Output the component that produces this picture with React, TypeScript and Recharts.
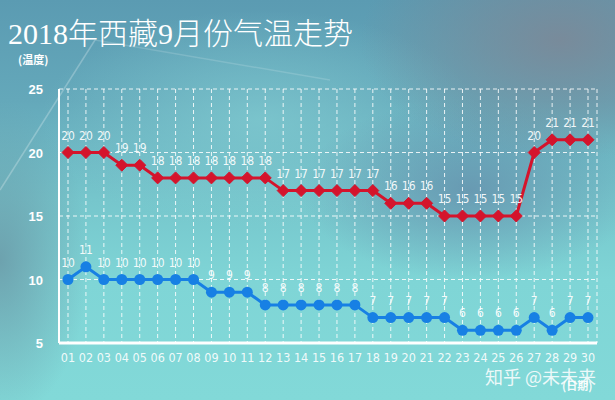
import React from 'react';
import { LineChart, Line, XAxis, YAxis, CartesianGrid, LabelList } from 'recharts';

const days = ['01','02','03','04','05','06','07','08','09','10','11','12','13','14','15','16','17','18','19','20','21','22','23','24','25','26','27','28','29','30'];
const highTemps = [20,20,20,19,19,18,18,18,18,18,18,18,17,17,17,17,17,17,16,16,16,15,15,15,15,15,20,21,21,21];
const lowTemps = [10,11,10,10,10,10,10,10,9,9,9,8,8,8,8,8,8,7,7,7,7,7,6,6,6,6,7,6,7,7];
const yTicks = [5,10,15,20,25];

const data = days.map((d, i) => ({ day: d, high: highTemps[i], low: lowTemps[i] }));

const RED = '#d4142c';
const BLUE = '#1780e4';
const LABEL_FONT = "'Liberation Sans Narrow', 'DejaVu Sans Condensed', 'Liberation Sans', sans-serif";

const Diamond = (props: any) => {
  const { cx, cy } = props;
  if (cx == null || cy == null) return null;
  const r = 6;
  return <polygon points={`${cx},${cy - r} ${cx + r},${cy} ${cx},${cy + r} ${cx - r},${cy}`} fill={RED} stroke={RED} strokeWidth={1} />;
};

const Circle = (props: any) => {
  const { cx, cy } = props;
  if (cx == null || cy == null) return null;
  return <circle cx={cx} cy={cy} r={5.5} fill={BLUE} />;
};

const ValLabel = (props: any) => {
  const { x, y, value } = props;
  return (
    <text x={x} y={y - 13} textAnchor="middle" fill="#ffffff" fillOpacity={0.92} fontSize={12} fontFamily={LABEL_FONT}>
      {value}
    </text>
  );
};

const YTick = (props: any) => {
  const { x, y, payload } = props;
  return (
    <text x={x - 8} y={y + 5} textAnchor="end" fill="#ffffff" fontSize={13} fontWeight="bold" fontFamily="'Liberation Sans', Arial, sans-serif">
      {payload.value}
    </text>
  );
};

const XTick = (props: any) => {
  const { x, y, payload } = props;
  return (
    <text x={x} y={y + 11} textAnchor="middle" fill="#ffffff" fillOpacity={0.9} fontSize={12.5} fontFamily={LABEL_FONT}>
      {payload.value}
    </text>
  );
};

export default function App() {
  const bg = [
    'radial-gradient(ellipse 200px 120px at 560px 40px, rgba(125,135,150,0.85), rgba(125,135,150,0) 100%)',
    'radial-gradient(ellipse 170px 90px at 470px 190px, rgba(100,140,170,0.75), rgba(100,140,170,0) 100%)',
    'radial-gradient(ellipse 90px 160px at 0px 260px, rgba(105,150,165,0.8), rgba(105,150,165,0) 100%)',
    'radial-gradient(ellipse 220px 110px at 260px 120px, rgba(130,205,210,0.7), rgba(130,205,210,0) 100%)',
    'linear-gradient(180deg, #5b9bb2 0%, #64a8ba 25%, #76c6cc 50%, #7fd5d6 70%, #82d9d8 100%)',
  ].join(', ');

  return (
    <div style={{ position: 'fixed', left: 0, top: 0, width: 615, height: 400, background: bg, overflow: 'hidden' }}>
      <svg width={615} height={400} style={{ position: 'absolute', left: 0, top: 0 }}>
        <line x1={0} y1={190} x2={95} y2={40} stroke="#ffffff" strokeOpacity={0.25} strokeWidth={1.5} />
        <line x1={95} y1={40} x2={330} y2={80} stroke="#ffffff" strokeOpacity={0.15} strokeWidth={1.5} />
      </svg>
      <div style={{ position: 'absolute', left: 8, top: 9, color: '#ffffff', fontSize: 30, fontFamily: "'Liberation Serif', 'Noto Sans CJK SC', serif", fontWeight: 300, whiteSpace: 'nowrap', letterSpacing: 0 }}>
        2018年西藏9月份气温走势
      </div>
      <div style={{ position: 'absolute', left: 18, top: 51, color: '#ffffff', fontSize: 11, fontWeight: 'bold', fontFamily: "'Noto Sans CJK SC', sans-serif" }}>
        (温度)
      </div>
      <div style={{ position: 'absolute', left: 0, top: 0 }}>
        <LineChart width={615} height={400} data={data} margin={{ top: 89, right: 18, bottom: 0, left: 0 }}>
          <CartesianGrid stroke="#ffffff" strokeOpacity={0.85} strokeDasharray="4 3" strokeWidth={1} />
          <XAxis dataKey="day" height={57} padding={{ left: 9, right: 9 }} tickLine={false} axisLine={{ stroke: '#ffffff', strokeWidth: 3 }} tick={<XTick />} interval={0} />
          <YAxis width={59} domain={[5, 25]} ticks={yTicks} tickLine={false} axisLine={{ stroke: '#ffffff', strokeWidth: 2 }} tick={<YTick />} interval={0} />
          <Line dataKey="high" stroke={RED} strokeWidth={3} dot={<Diamond />} activeDot={false} isAnimationActive={false}>
            <LabelList dataKey="high" content={<ValLabel />} />
          </Line>
          <Line dataKey="low" stroke={BLUE} strokeWidth={3} dot={<Circle />} activeDot={false} isAnimationActive={false}>
            <LabelList dataKey="low" content={<ValLabel />} />
          </Line>
        </LineChart>
      </div>
      <div style={{ position: 'absolute', left: 485, top: 367, lineHeight: 1, color: '#ffffff', fontSize: 18, opacity: 0.85, fontFamily: "'Noto Sans CJK SC', sans-serif", whiteSpace: 'nowrap' }}>
        知乎 @未未来
      </div>
      <div style={{ position: 'absolute', left: 562, top: 380, lineHeight: 1, color: '#ffffff', fontSize: 11, fontWeight: 'bold', opacity: 0.9, fontFamily: "'Noto Sans CJK SC', sans-serif" }}>
        (日期)
      </div>
    </div>
  );
}
